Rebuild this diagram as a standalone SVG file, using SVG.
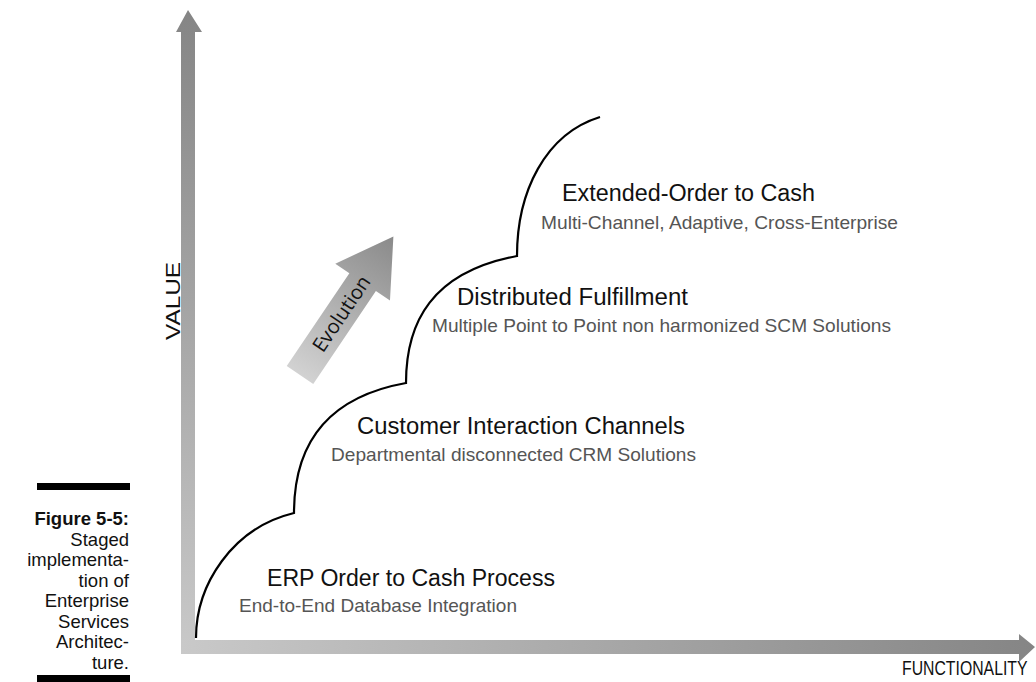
<svg xmlns="http://www.w3.org/2000/svg" width="1036" height="682" viewBox="0 0 1036 682">
<defs>
<linearGradient id="gv" x1="0" y1="0" x2="0" y2="1"><stop offset="0" stop-color="#858585"/><stop offset="1" stop-color="#c9c9c9"/></linearGradient>
<linearGradient id="gh" x1="0" y1="0" x2="1" y2="0"><stop offset="0" stop-color="#c9c9c9"/><stop offset="1" stop-color="#858585"/></linearGradient>
<linearGradient id="ge" x1="0" y1="0" x2="1" y2="0"><stop offset="0" stop-color="#d2d2d2"/><stop offset="1" stop-color="#8a8a8a"/></linearGradient>
<style>
.main{font-family:"Liberation Sans",Arial,sans-serif;font-size:23px;fill:#111}
.sub{font-family:"Liberation Sans",Arial,sans-serif;font-size:19px;fill:#555}
.cap{font-family:"Liberation Sans",Arial,sans-serif;font-size:18.5px;fill:#111;text-anchor:end}
.ax{font-family:"Liberation Sans",Arial,sans-serif;font-size:20px;fill:#111}
.curve{fill:none;stroke:#000;stroke-width:2.2}
</style>
</defs>
<rect width="1036" height="682" fill="#fff"/>
<g id="axes">
<polygon points="181,32 176,32 188,10 202,32 195,32 195,654 181,654" fill="url(#gv)"/>
<polygon points="181,640 1019,640 1019,634 1035,647 1019,662 1019,654 181,654" fill="url(#gh)"/>
<text class="ax" transform="translate(180,301) rotate(-90)" text-anchor="middle" textLength="78" lengthAdjust="spacingAndGlyphs">VALUE</text>
<text class="ax" transform="translate(902,675) scale(0.79,1)">FUNCTIONALITY</text>
</g>
<g id="evolution">
<g transform="translate(300,375) rotate(-56)">
<polygon points="0,-16 112,-16 112,-33 167,0 112,33 112,16 0,16" fill="url(#ge)"/>
<text x="74" y="7" text-anchor="middle" font-family="'Open Sans','Liberation Sans',sans-serif" font-size="20" fill="#111">Evolution</text>
</g>
</g>
<g id="connectors">
<path class="curve" d="M196,638 C196,585 232,528 294,513 C294,450 322,398 406,383 C406,322 432,272 517,256 C517,192 545,134 600,117"/>
</g>
<g id="stage1">
<text class="main" x="267" y="586" textLength="288" lengthAdjust="spacingAndGlyphs">ERP Order to Cash Process</text>
<text class="sub" x="239" y="612" textLength="278" lengthAdjust="spacingAndGlyphs">End-to-End Database Integration</text>
</g>
<g id="stage2">
<text class="main" x="357" y="434" textLength="328" lengthAdjust="spacingAndGlyphs">Customer Interaction Channels</text>
<text class="sub" x="331" y="461" textLength="365" lengthAdjust="spacingAndGlyphs">Departmental disconnected CRM Solutions</text>
</g>
<g id="stage3">
<text class="main" x="457" y="305" textLength="231" lengthAdjust="spacingAndGlyphs">Distributed Fulfillment</text>
<text class="sub" x="432" y="332" textLength="459" lengthAdjust="spacingAndGlyphs">Multiple Point to Point non harmonized SCM Solutions</text>
</g>
<g id="stage4">
<text class="main" x="562" y="201" textLength="253" lengthAdjust="spacingAndGlyphs">Extended-Order to Cash</text>
<text class="sub" x="541" y="229" textLength="357" lengthAdjust="spacingAndGlyphs">Multi-Channel, Adaptive, Cross-Enterprise</text>
</g>
<g id="caption">
<rect x="37" y="483" width="93" height="7" fill="#000"/>
<text class="cap" x="129" y="525" font-weight="bold">Figure 5-5:</text>
<text class="cap" x="129" y="545.5">Staged</text>
<text class="cap" x="129" y="566">implementa-</text>
<text class="cap" x="129" y="586.5">tion of</text>
<text class="cap" x="129" y="607">Enterprise</text>
<text class="cap" x="129" y="627.5">Services</text>
<text class="cap" x="129" y="648">Architec-</text>
<text class="cap" x="129" y="668.5">ture.</text>
<rect x="37" y="675" width="93" height="7" fill="#000"/>
</g>
</svg>
